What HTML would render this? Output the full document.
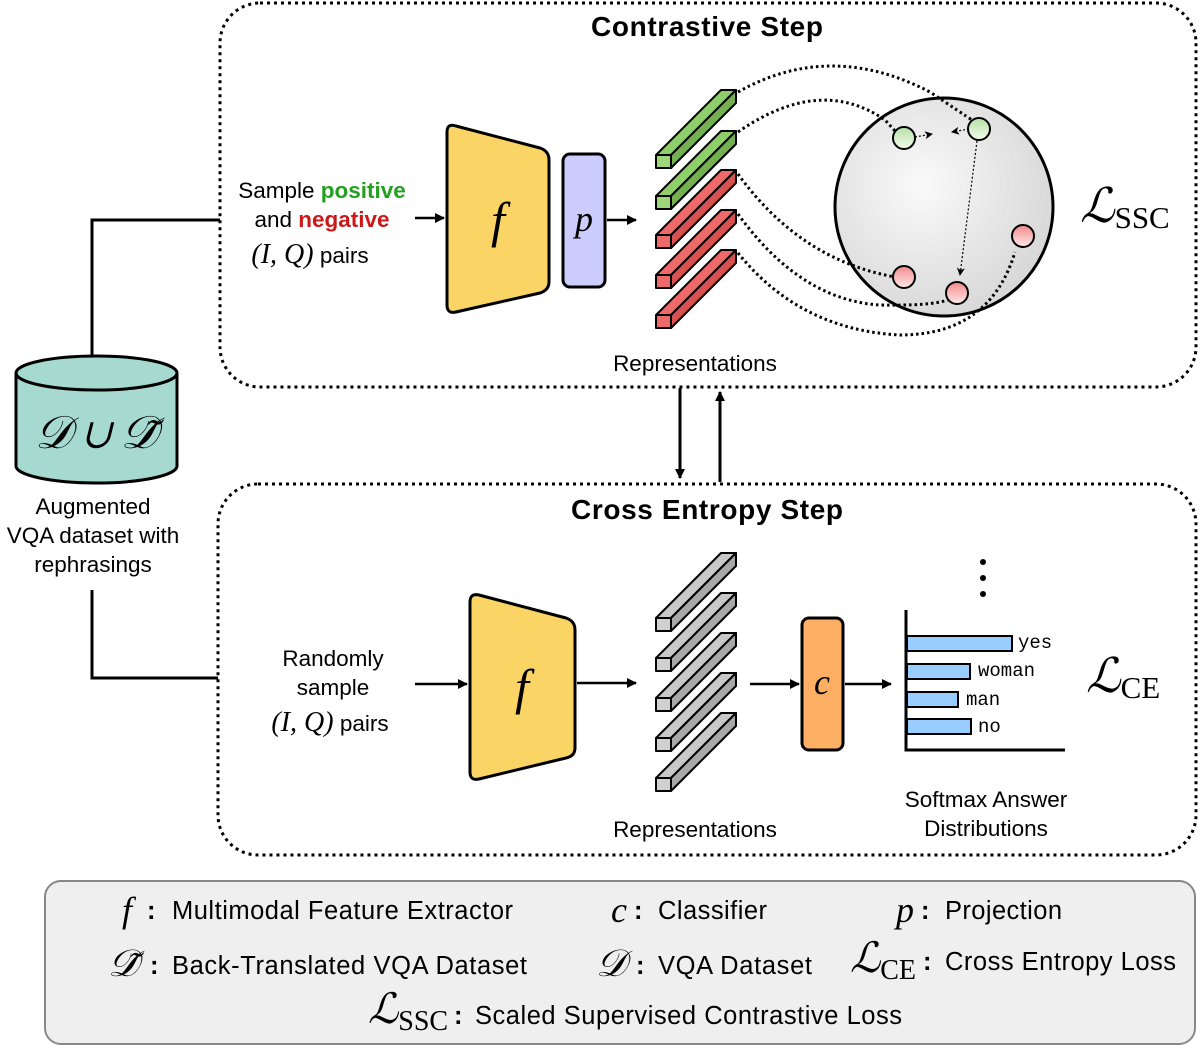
<!DOCTYPE html>
<html><head><meta charset="utf-8"><style>
html,body{margin:0;padding:0;background:#fff;}
svg{display:block;}
text{font-family:"Liberation Sans",sans-serif;}
.m{font-family:"Liberation Serif",serif;font-style:italic;}
.mono{font-family:"Liberation Mono",monospace;}
</style></head><body>
<svg width="1200" height="1049" viewBox="0 0 1200 1049" xmlns="http://www.w3.org/2000/svg">
<defs>
<marker id="ar" markerWidth="10" markerHeight="10" refX="9" refY="5" orient="auto" markerUnits="userSpaceOnUse"><path d="M0,0 L10,5 L0,10 z" fill="#000"/></marker>
<marker id="sa" markerWidth="8" markerHeight="8" refX="7" refY="4" orient="auto" markerUnits="userSpaceOnUse"><path d="M0,0 L8,4 L0,8 L2,4 z" fill="#000"/></marker>
<radialGradient id="sg" cx="0.4" cy="0.4" r="0.7"><stop offset="0" stop-color="#fafafa"/><stop offset="1" stop-color="#d4d4d4"/></radialGradient>
<linearGradient id="gg" x1="0" y1="0" x2="0" y2="1"><stop offset="0" stop-color="#b8e0a4"/><stop offset="1" stop-color="#f2fbee"/></linearGradient>
<linearGradient id="rg" x1="0" y1="0" x2="0" y2="1"><stop offset="0" stop-color="#f28a8a"/><stop offset="1" stop-color="#fde8e8"/></linearGradient>
</defs>

<rect x="220" y="3" width="976" height="384" rx="40" fill="none" stroke="#000" stroke-width="3" stroke-dasharray="3,4"/>
<rect x="218" y="484" width="978" height="371" rx="40" fill="none" stroke="#000" stroke-width="3" stroke-dasharray="3,4"/>
<text x="707" y="36" font-size="28" font-weight="bold" text-anchor="middle" textLength="232">Contrastive Step</text>
<text x="707" y="519" font-size="28" font-weight="bold" text-anchor="middle" textLength="272">Cross Entropy Step</text>

<path d="M92,365 V220 H220" fill="none" stroke="#000" stroke-width="3"/>
<path d="M92,590 V678 H218" fill="none" stroke="#000" stroke-width="3"/>
<path d="M16,373 V466 A80.5,17 0 0 0 177,466 V373" fill="#a6dad0" stroke="#000" stroke-width="3"/>
<ellipse cx="96.5" cy="373" rx="80.5" ry="17" fill="#a6dad0" stroke="#000" stroke-width="3"/>
<text x="96" y="448" font-size="46" text-anchor="middle" class="m">𝒟 ∪ 𝒟̃</text>
<text x="93" y="514" font-size="22.5" text-anchor="middle">Augmented</text>
<text x="93" y="543" font-size="22.5" text-anchor="middle">VQA dataset with</text>
<text x="93" y="572" font-size="22.5" text-anchor="middle">rephrasings</text>

<text x="322" y="198" font-size="22.5" text-anchor="middle">Sample <tspan fill="#22a020" font-weight="bold">positive</tspan></text>
<text x="322" y="227" font-size="22.5" text-anchor="middle">and <tspan fill="#cc1818" font-weight="bold">negative</tspan></text>
<text x="310" y="263" font-size="22.5" text-anchor="middle"><tspan class="m" font-size="28">(I, Q)</tspan>  pairs</text>

<line x1="415" y1="218" x2="444" y2="218" stroke="#000" stroke-width="2.5" marker-end="url(#ar)"/>
<path d="M447,132 Q447,123 456,126 L540,148 Q549,151 549,160 L549,282 Q549,290 540,293 L456,312 Q447,314 447,305 Z" fill="#fad565" stroke="#000" stroke-width="3"/>
<text x="498" y="237" font-size="50" text-anchor="middle" class="m">f</text>
<rect x="563" y="154" width="42" height="133" rx="7" fill="#ccccff" stroke="#000" stroke-width="3"/>
<text x="584" y="231" font-size="36" text-anchor="middle" class="m">p</text>
<line x1="607" y1="220" x2="636" y2="220" stroke="#000" stroke-width="2.5" marker-end="url(#ar)"/>

<g stroke="#000" stroke-width="2" stroke-linejoin="round">
<g fill="#8fcf6a"><polygon points="656,155 721,90 736,90 671,155"/><polygon points="671,155 736,90 736,103 671,168" fill="#74b050"/><rect x="656" y="155" width="15" height="13" fill="#9ed77a"/></g>
<g fill="#8fcf6a"><polygon points="656,196 721,131 736,131 671,196"/><polygon points="671,196 736,131 736,144 671,209" fill="#74b050"/><rect x="656" y="196" width="15" height="13" fill="#9ed77a"/></g>
<g fill="#ee6a6a"><polygon points="656,235 721,170 736,170 671,235"/><polygon points="671,235 736,170 736,183 671,248" fill="#d85050"/><rect x="656" y="235" width="15" height="13"/></g>
<g fill="#ee6a6a"><polygon points="656,275 721,210 736,210 671,275"/><polygon points="671,275 736,210 736,223 671,288" fill="#d85050"/><rect x="656" y="275" width="15" height="13"/></g>
<g fill="#ee6a6a"><polygon points="656,315 721,250 736,250 671,315"/><polygon points="671,315 736,250 736,263 671,328" fill="#d85050"/><rect x="656" y="315" width="15" height="13"/></g>
</g>

<circle cx="944" cy="207" r="109" fill="url(#sg)" stroke="#000" stroke-width="3"/>
<g fill="none" stroke="#000" stroke-width="3" stroke-dasharray="2.5,3">
<path d="M738,92 Q830,40 930,92 Q960,112 975,122"/>
<path d="M738,132 Q820,75 885,120 L896,132"/>
<path d="M738,174 Q800,260 895,277"/>
<path d="M738,214 Q800,300 880,305 Q930,306 948,300"/>
<path d="M738,253 Q800,330 900,335 Q990,335 1015,252"/>
</g>
<g stroke="#000" stroke-width="1.2" stroke-dasharray="2,2" fill="none">
<line x1="915" y1="137" x2="932" y2="134" marker-end="url(#sa)"/>
<line x1="969" y1="129" x2="952" y2="132" marker-end="url(#sa)"/>
<line x1="977" y1="141" x2="960" y2="275" marker-end="url(#sa)" marker-start="url(#sa)"/>
</g>
<g stroke="#000" stroke-width="2">
<circle cx="904" cy="138" r="11" fill="url(#gg)"/>
<circle cx="979" cy="129" r="11" fill="url(#gg)"/>
<circle cx="1023" cy="236" r="11" fill="url(#rg)"/>
<circle cx="904" cy="277" r="11" fill="url(#rg)"/>
<circle cx="957" cy="293" r="11" fill="url(#rg)"/>
</g>
<text x="1080" y="222" font-size="48" class="m">ℒ<tspan font-style="normal" font-size="31" dy="6">SSC</tspan></text>
<text x="695" y="371" font-size="22.5" text-anchor="middle">Representations</text>

<line x1="680" y1="388" x2="680" y2="478" stroke="#000" stroke-width="3" marker-end="url(#ar)"/>
<line x1="720" y1="482" x2="720" y2="392" stroke="#000" stroke-width="3" marker-end="url(#ar)"/>

<text x="333" y="666" font-size="22.5" text-anchor="middle">Randomly</text>
<text x="333" y="695" font-size="22.5" text-anchor="middle">sample</text>
<text x="330" y="731" font-size="22.5" text-anchor="middle"><tspan class="m" font-size="28">(I, Q)</tspan>  pairs</text>
<line x1="415" y1="684" x2="467" y2="684" stroke="#000" stroke-width="2.5" marker-end="url(#ar)"/>
<path d="M470,602 Q470,593 479,595 L566,618 Q575,621 575,630 L575,748 Q575,756 566,758 L479,779 Q470,781 470,772 Z" fill="#fad565" stroke="#000" stroke-width="3"/>
<text x="522" y="704" font-size="50" text-anchor="middle" class="m">f</text>
<line x1="577" y1="683" x2="636" y2="683" stroke="#000" stroke-width="2.5" marker-end="url(#ar)"/>

<g stroke="#000" stroke-width="2" stroke-linejoin="round">
<g><polygon points="656,618 721,553 736,553 671,618" fill="#c8c8c8"/><polygon points="671,618 736,553 736,566 671,631" fill="#a8a8a8"/><rect x="656" y="618" width="15" height="13" fill="#d0d0d0"/></g>
<g><polygon points="656,658 721,593 736,593 671,658" fill="#c8c8c8"/><polygon points="671,658 736,593 736,606 671,671" fill="#a8a8a8"/><rect x="656" y="658" width="15" height="13" fill="#d0d0d0"/></g>
<g><polygon points="656,698 721,633 736,633 671,698" fill="#c8c8c8"/><polygon points="671,698 736,633 736,646 671,711" fill="#a8a8a8"/><rect x="656" y="698" width="15" height="13" fill="#d0d0d0"/></g>
<g><polygon points="656,738 721,673 736,673 671,738" fill="#c8c8c8"/><polygon points="671,738 736,673 736,686 671,751" fill="#a8a8a8"/><rect x="656" y="738" width="15" height="13" fill="#d0d0d0"/></g>
<g><polygon points="656,778 721,713 736,713 671,778" fill="#c8c8c8"/><polygon points="671,778 736,713 736,726 671,791" fill="#a8a8a8"/><rect x="656" y="778" width="15" height="13" fill="#d0d0d0"/></g>
</g>

<line x1="750" y1="684" x2="799" y2="684" stroke="#000" stroke-width="2.5" marker-end="url(#ar)"/>
<rect x="802" y="618" width="41" height="132" rx="7" fill="#fdb064" stroke="#000" stroke-width="3"/>
<text x="822" y="694" font-size="36" text-anchor="middle" class="m">c</text>
<line x1="845" y1="684" x2="891" y2="684" stroke="#000" stroke-width="2.5" marker-end="url(#ar)"/>

<circle cx="983" cy="562" r="3" fill="#000"/><circle cx="983" cy="578" r="3" fill="#000"/><circle cx="983" cy="594" r="3" fill="#000"/>
<path d="M906,610 V750 H1065" fill="none" stroke="#000" stroke-width="3"/>
<g fill="#99ccff" stroke="#000" stroke-width="2">
<rect x="907" y="636" width="105" height="15"/>
<rect x="907" y="664" width="63" height="15"/>
<rect x="907" y="692" width="51" height="15"/>
<rect x="907" y="719" width="64" height="15"/>
</g>
<text x="1018" y="648" class="mono" font-size="19">yes</text>
<text x="978" y="676" class="mono" font-size="19">woman</text>
<text x="966" y="705" class="mono" font-size="19">man</text>
<text x="978" y="732" class="mono" font-size="19">no</text>
<text x="1086" y="692" font-size="48" class="m">ℒ<tspan font-style="normal" font-size="31" dy="6">CE</tspan></text>
<text x="695" y="837" font-size="22.5" text-anchor="middle">Representations</text>
<text x="986" y="807" font-size="22.5" text-anchor="middle">Softmax Answer</text>
<text x="986" y="836" font-size="22.5" text-anchor="middle">Distributions</text>

<rect x="45" y="881" width="1150" height="163" rx="16" fill="#efefef" stroke="#888" stroke-width="2"/>
<g font-size="25.5">
<text x="122" y="922" class="m" font-size="36">f</text><text x="147" y="919" font-weight="bold">:</text>
<text x="172" y="919" textLength="341">Multimodal Feature Extractor</text>
<text x="611" y="922" class="m" font-size="36">c</text><text x="634" y="919" font-weight="bold">:</text>
<text x="658" y="919" textLength="109">Classifier</text>
<text x="896" y="922" class="m" font-size="36">p</text><text x="921" y="919" font-weight="bold">:</text>
<text x="945" y="919" textLength="117">Projection</text>
<text x="108" y="976" class="m" font-size="38">𝒟̃</text><text x="150" y="974" font-weight="bold">:</text>
<text x="172" y="974" textLength="355">Back-Translated VQA Dataset</text>
<text x="596" y="976" class="m" font-size="38">𝒟</text><text x="636" y="974" font-weight="bold">:</text>
<text x="658" y="974" textLength="154">VQA Dataset</text>
<text x="850" y="972" class="m" font-size="42">ℒ<tspan font-style="normal" font-size="28" dy="7">CE</tspan></text><text x="923" y="970" font-weight="bold">:</text>
<text x="945" y="970" textLength="231">Cross Entropy Loss</text>
<text x="368" y="1023" class="m" font-size="42">ℒ<tspan font-style="normal" font-size="28" dy="7">SSC</tspan></text><text x="454" y="1024" font-weight="bold">:</text>
<text x="475" y="1024" textLength="427">Scaled Supervised Contrastive Loss</text>
</g>
</svg>
</body></html>
